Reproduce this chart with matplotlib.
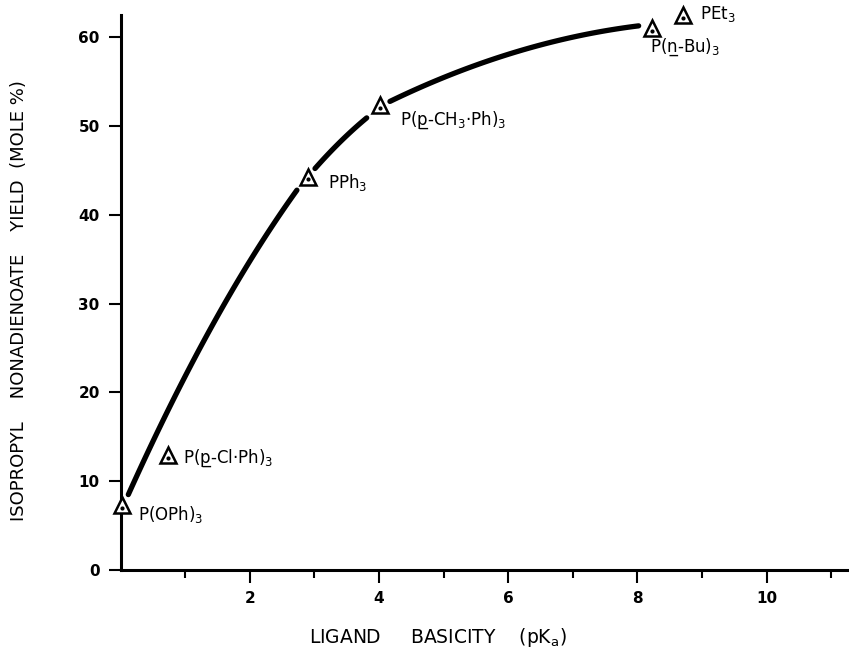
import numpy as np
import matplotlib
matplotlib.use("Agg")
import matplotlib.pyplot as plt

plt.rcParams["font.family"] = ["DejaVu Sans"]
plt.rcParams["mathtext.default"] = "regular"

# ── Data ──────────────────────────────────────────────────────────────────────
ligands = ["P(OPh)$_3$", "P(p\u0332-Cl·Ph)$_3$", "PPh$_3$",
           "P(p\u0332-CH$_3$·Ph)$_3$", "P(n\u0332-Bu)$_3$", "PEt$_3$"]
pka   = [0.02, 0.74, 2.90, 4.02, 8.23, 8.71]
yield_pct = [7.3, 12.9, 44.3, 52.3, 61.0, 62.5]
label_x = [0.27, 0.97, 3.21, 4.33, 8.20, 8.97]
label_y = [6.3, 12.6, 43.6, 50.6, 58.8, 62.6]

# hand-drawn trend curve, in pieces broken around the markers
curve_segments = [
    ([0.12, 0.61, 1.13, 1.64, 2.16, 2.73], [8.8, 15.6, 23.6, 30.6, 36.8, 42.6]),
    ([3.01, 3.40, 3.81], [45.2, 48.2, 50.9]),
    ([4.17, 5.05, 6.08, 7.11, 8.02], [52.7, 55.7, 58.2, 60.1, 61.3]),
]

fig = plt.figure(figsize=(8.49, 6.57), dpi=100)
ax = fig.add_axes([0.142, 0.1324, 0.856, 0.845])

for xs, ys in curve_segments:
    c = np.polyfit(xs, ys, 2)
    xx = np.linspace(xs[0], xs[-1], 80)
    ax.plot(xx, np.polyval(c, xx), color="black", lw=3.8, solid_capstyle="round")

ax.plot(pka, yield_pct, ls="none", marker="^", ms=11, mfc="white", mec="black",
        mew=1.8, clip_on=False, zorder=3)
ax.plot(pka, [v - 0.3 for v in yield_pct], ls="none", marker="o", ms=2,
        color="black", clip_on=False, zorder=4)

for name, lx, ly in zip(ligands, label_x, label_y):
    ax.text(lx, ly, name, fontsize=12, ha="left", va="center")

ax.set_xlim(0, 11.25)
ax.set_ylim(0, 62.5)
ax.set_xticks(range(2, 12, 2))
ax.set_xticks(range(1, 12), minor=True)
ax.set_yticks(range(0, 61, 10))
ax.tick_params(axis="x", which="major", length=9, width=1.5, direction="out", pad=6)
ax.tick_params(axis="x", which="minor", length=6, width=1.5, direction="out")
ax.tick_params(axis="y", length=9, width=1.5, direction="out", pad=6)
for t in ax.get_xticklabels() + ax.get_yticklabels():
    t.set_fontweight("bold")
    t.set_fontsize(11)
for s in ["top", "right"]:
    ax.spines[s].set_visible(False)
for s in ["left", "bottom"]:
    ax.spines[s].set_linewidth(2.2)

ax.set_xlabel("LIGAND     BASICITY    (pK$_a$)", fontsize=13.5)
ax.set_ylabel("ISOPROPYL    NONADIENOATE    YIELD  (MOLE %)", fontsize=13)
ax.xaxis.set_label_coords(0.436, -0.1)
ax.yaxis.set_label_coords(-0.128, 0.486)

fig.savefig("out.png", dpi=100)
